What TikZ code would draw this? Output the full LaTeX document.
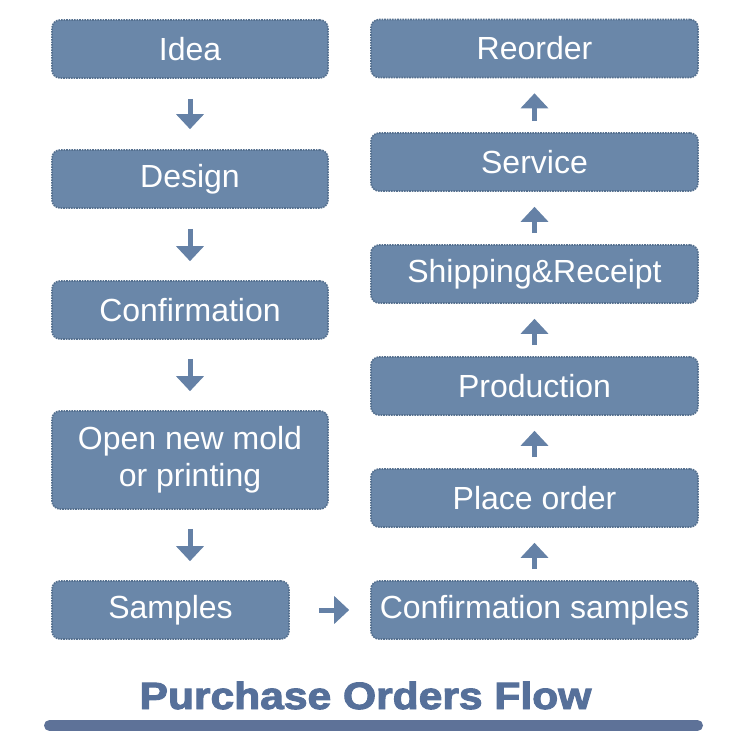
\documentclass[tikz,border=0pt]{standalone}
\usepackage{fontspec}
\setmainfont{Liberation Sans}
\newfontfamily\titlefont[FakeBold=2.5]{Liberation Sans Bold}
\usetikzlibrary{arrows.meta}
\definecolor{boxfill}{HTML}{6A87A9}
\definecolor{boxedge}{HTML}{55708F}
\definecolor{arrowc}{HTML}{6581A6}
\definecolor{titlec}{HTML}{56709A}
\definecolor{barc}{HTML}{5E7298}
\begin{document}
\begin{tikzpicture}[x=1pt,y=-1pt,
  flowbox/.style={rectangle, rounded corners=8pt, fill=boxfill, draw=boxedge,
    densely dotted, line width=1.6pt, text=white, inner sep=0pt,
    font=\fontsize{32}{37}\selectfont, align=center},
  flowarrow/.style={draw=arrowc, solid, line width=5pt,
    -{Triangle[width=27pt,length=15pt]}}]
\useasboundingbox (0,0) rectangle (750,750);
% left column
\node[flowbox, minimum width=276pt, minimum height=58pt] (idea) at (190,49) {Idea};
\node[flowbox, minimum width=276pt, minimum height=58pt] (design) at (190,179) {Design};
\node[flowbox, minimum width=276pt, minimum height=58pt] (conf) at (190,310) {Confirmation};
\node[flowbox, minimum width=276pt, minimum height=98pt] (mold) at (190,460) {Open new mold\\or printing};
\node[flowbox, minimum width=237pt, minimum height=58pt] (samples) at (170.5,610) {Samples};
% right column
\node[flowbox, minimum width=327pt, minimum height=58pt] (reorder) at (534.5,48.5) {Reorder};
\node[flowbox, minimum width=327pt, minimum height=58pt] (service) at (534.5,162) {Service};
\node[flowbox, minimum width=327pt, minimum height=58pt] (ship) at (534.5,274) {Shipping\&Receipt};
\node[flowbox, minimum width=327pt, minimum height=58pt] (prod) at (534.5,386) {Production};
\node[flowbox, minimum width=327pt, minimum height=58pt] (place) at (534.5,498) {Place order};
\node[flowbox, minimum width=327pt, minimum height=58pt] (csamp) at (534.5,610) {Confirmation samples};
% arrows left
\draw[flowarrow, shorten <=20pt, shorten >=20pt] (idea.south) -- (design.north);
\draw[flowarrow, shorten <=20pt, shorten >=19pt] (design.south) -- (conf.north);
\draw[flowarrow, shorten <=19pt, shorten >=19pt] (conf.south) -- (mold.north);
\draw[flowarrow, shorten <=19pt, shorten >=19pt] (mold.south) -- (samples.north -| mold.south);
% horizontal
\draw[flowarrow, shorten <=29pt, shorten >=21pt] (samples.east) -- (csamp.west);
% arrows right (upward)
\draw[flowarrow, shorten <=11pt, shorten >=15pt] (csamp.north) -- (place.south);
\draw[flowarrow, shorten <=11pt, shorten >=15pt] (place.north) -- (prod.south);
\draw[flowarrow, shorten <=11pt, shorten >=15pt] (prod.north) -- (ship.south);
\draw[flowarrow, shorten <=11pt, shorten >=15pt] (ship.north) -- (service.south);
\draw[flowarrow, shorten <=11pt, shorten >=15pt] (service.north) -- (reorder.south);
% title
\node[text=titlec, inner sep=0pt, anchor=base] (title) at (365.5,709)
  {\scalebox{1.12}[1]{\titlefont\fontsize{38}{40}\selectfont Purchase Orders Flow}};
\draw[barc, line width=11pt, line cap=round] (49.5,725.5) -- (697.5,725.5);
\end{tikzpicture}
\end{document}
